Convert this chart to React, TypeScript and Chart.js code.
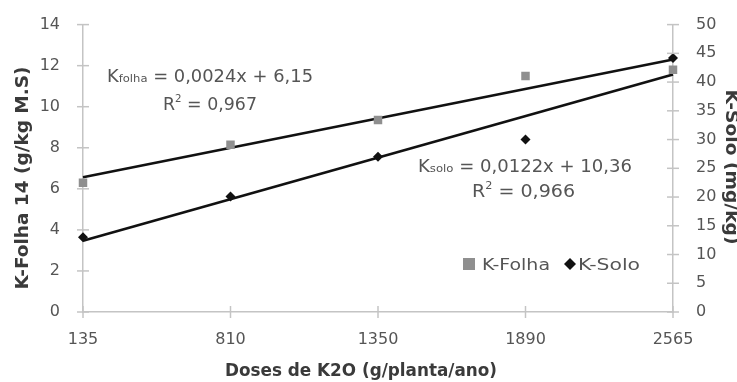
import React, { useEffect, useRef } from "react";
import { Chart, registerables } from "chart.js";

Chart.register(...registerables);

const doses = ["135", "810", "1350", "1890", "2565"];
const kFolha = [6.3, 8.15, 9.35, 11.5, 11.8];
const kSolo = [13.0, 20.1, 27.0, 30.0, 44.2];
// trendline end values (first and last dose)
const folhaTrend = [6.56, null, null, null, 12.3];
const soloTrend = [12.4, null, null, null, 41.3];
const leftTicks = [0, 2, 4, 6, 8, 10, 12, 14];
const rightTicks = [0, 5, 10, 15, 20, 25, 30, 35, 40, 45, 50];

const xTitle = "Doses de K2O (g/planta/ano)";
const yTitle = "K-Folha 14 (g/kg M.S)";
const y2Title = "K-Solo (mg/kg)";

const FONT = "'DejaVu Sans', 'Liberation Sans', sans-serif";
const TEXT = "#555555";
const TITLE = "#3a3a3a";
const AXIS = "#c4c4c4";

// draw text stretched horizontally so that it fills a given width
function fitText(ctx: any, text: string, x: number, y: number, width: number) {
  const w = ctx.measureText(text).width;
  ctx.save();
  ctx.translate(x, y);
  ctx.scale(width / w, 1);
  ctx.fillText(text, 0, 0);
  ctx.restore();
}

const decorPlugin = {
  id: "decor",
  afterDraw(chart: any) {
    const ctx = chart.ctx;
    const x = chart.scales.x;
    const y = chart.scales.y;
    const y2 = chart.scales.y2;
    ctx.save();
    ctx.strokeStyle = AXIS;
    ctx.lineWidth = 1.5;
    // cross tick marks
    x.ticks.forEach((_: any, i: number) => {
      const px = x.getPixelForTick(i);
      ctx.beginPath();
      ctx.moveTo(px, y.bottom - 6);
      ctx.lineTo(px, y.bottom + 6);
      ctx.stroke();
    });
    y.ticks.forEach((t: any) => {
      const py = y.getPixelForValue(t.value);
      ctx.beginPath();
      ctx.moveTo(x.left - 6, py);
      ctx.lineTo(x.left + 6, py);
      ctx.stroke();
    });
    y2.ticks.forEach((t: any) => {
      const py = y2.getPixelForValue(t.value);
      ctx.beginPath();
      ctx.moveTo(x.right - 6, py);
      ctx.lineTo(x.right + 6, py);
      ctx.stroke();
    });

    // axis titles
    ctx.fillStyle = TITLE;
    ctx.font = `bold 17px ${FONT}`;
    ctx.textAlign = "left";
    ctx.textBaseline = "alphabetic";
    fitText(ctx, xTitle, 225, 376, 272);
    ctx.textAlign = "center";
    ctx.textBaseline = "middle";
    ctx.save();
    ctx.translate(24, 178);
    ctx.rotate(-Math.PI / 2);
    fitText(ctx, yTitle, 0, 0, 223);
    ctx.restore();
    ctx.save();
    ctx.translate(730, 167);
    ctx.rotate(Math.PI / 2);
    fitText(ctx, y2Title, 0, 0, 155);
    ctx.restore();

    // equations
    ctx.fillStyle = TEXT;
    ctx.textBaseline = "alphabetic";
    ctx.textAlign = "left";
    const eq = (sx: number, by: number, sub: string, rest: string, width: number) => {
      ctx.font = `17px ${FONT}`;
      const wK = ctx.measureText("K").width;
      const wR = ctx.measureText(rest).width;
      ctx.font = `11px ${FONT}`;
      const wS = ctx.measureText(sub).width;
      const k = width / (wK + wS + wR);
      ctx.save();
      ctx.translate(sx, by);
      ctx.scale(k, 1);
      ctx.font = `17px ${FONT}`;
      ctx.fillText("K", 0, 0);
      ctx.font = `11px ${FONT}`;
      ctx.fillText(sub, wK, 0);
      ctx.font = `17px ${FONT}`;
      ctx.fillText(rest, wK + wS, 0);
      ctx.restore();
    };
    const r2 = (sx: number, by: number, val: string, width: number) => {
      ctx.font = `17px ${FONT}`;
      const wR = ctx.measureText("R").width;
      const wV = ctx.measureText(" = " + val).width;
      ctx.font = `10px ${FONT}`;
      const w2 = ctx.measureText("2").width;
      const k = width / (wR + w2 + wV);
      ctx.save();
      ctx.translate(sx, by);
      ctx.scale(k, 1);
      ctx.font = `17px ${FONT}`;
      ctx.fillText("R", 0, 0);
      ctx.font = `10px ${FONT}`;
      ctx.fillText("2", wR, -8);
      ctx.font = `17px ${FONT}`;
      ctx.fillText(" = " + val, wR + w2, 0);
      ctx.restore();
    };
    eq(107, 82, "folha", " = 0,0024x + 6,15", 206);
    r2(163, 110, "0,967", 94);
    eq(418, 172, "solo", " = 0,0122x + 10,36", 214);
    r2(472, 197, "0,966", 103);

    // legend
    const d0 = chart.data.datasets[0];
    const d1 = chart.data.datasets[1];
    ctx.fillStyle = d0.backgroundColor;
    ctx.fillRect(463, 258, 12, 12);
    ctx.fillStyle = TEXT;
    ctx.font = `16px ${FONT}`;
    fitText(ctx, d0.label, 482, 270, 68);
    ctx.fillStyle = d1.backgroundColor;
    ctx.beginPath();
    ctx.moveTo(570, 258);
    ctx.lineTo(576, 264);
    ctx.lineTo(570, 270);
    ctx.lineTo(564, 264);
    ctx.closePath();
    ctx.fill();
    ctx.fillStyle = TEXT;
    fitText(ctx, d1.label, 578, 270, 62);
    ctx.restore();
  },
};

export default function App() {
  const ref = useRef<HTMLCanvasElement>(null);
  useEffect(() => {
    if (!ref.current) return;
    const chart = new Chart(ref.current, {
      type: "line",
      data: {
        labels: doses,
        datasets: [
          {
            label: "K-Folha",
            data: kFolha,
            yAxisID: "y",
            showLine: false,
            pointStyle: "rect",
            pointRadius: 6,
            backgroundColor: "#8f8f8f",
            borderColor: "#8f8f8f",
            borderWidth: 0,
            order: 1,
          },
          {
            label: "K-Solo",
            data: kSolo,
            yAxisID: "y2",
            showLine: false,
            pointStyle: "rectRot",
            pointRadius: 5,
            backgroundColor: "#111111",
            borderColor: "#111111",
            borderWidth: 0,
            order: 0,
          },
          {
            label: "trend folha",
            data: folhaTrend as any,
            yAxisID: "y",
            spanGaps: true,
            borderColor: "#111111",
            borderWidth: 2.6,
            pointRadius: 0,
            order: 2,
          },
          {
            label: "trend solo",
            data: soloTrend as any,
            yAxisID: "y2",
            spanGaps: true,
            borderColor: "#111111",
            borderWidth: 2.6,
            pointRadius: 0,
            order: 2,
          },
        ],
      },
      options: {
        responsive: false,
        animation: false,
        layout: { padding: { top: 19, right: 0, left: 0, bottom: 0 } },
        plugins: { legend: { display: false }, tooltip: { enabled: false } },
        scales: {
          x: {
            offset: false,
            grid: { display: false },
            border: { display: true, color: AXIS, width: 1.5 },
            ticks: { color: TEXT, font: { family: FONT, size: 16 }, padding: 10, maxRotation: 0 },
            title: { display: false, text: xTitle },
            afterFit: (s: any) => {
              s.height = 70;
            },
          },
          y: {
            position: "left",
            min: 0,
            max: 14,
            afterBuildTicks: (s: any) => {
              s.ticks = leftTicks.map((v) => ({ value: v }));
            },
            grid: { display: false },
            border: { display: true, color: AXIS, width: 1.5 },
            ticks: { color: TEXT, font: { family: FONT, size: 16 }, padding: 15 },
            title: { display: false, text: yTitle },
            afterFit: (s: any) => {
              s.width = 83;
            },
          },
          y2: {
            position: "right",
            min: 0,
            max: 50,
            afterBuildTicks: (s: any) => {
              s.ticks = rightTicks.map((v) => ({ value: v }));
            },
            grid: { display: false },
            border: { display: true, color: AXIS, width: 1.5 },
            ticks: { color: TEXT, font: { family: FONT, size: 16 }, padding: 15 },
            title: { display: false, text: y2Title },
            afterFit: (s: any) => {
              s.width = 64;
            },
          },
        },
      },
      plugins: [decorPlugin],
    } as any);
    return () => chart.destroy();
  }, []);
  return (
    <div style={{ position: "fixed", left: 0, top: 0, width: 737, height: 382, background: "#fff" }}>
      <canvas ref={ref} width={737} height={382} style={{ display: "block" }} />
    </div>
  );
}
